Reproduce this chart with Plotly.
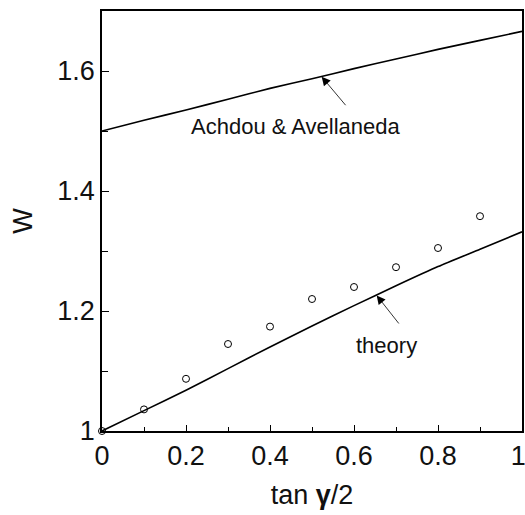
import plotly.graph_objects as go

# Data
x_line = [0.0, 0.1, 0.2, 0.3, 0.4, 0.5, 0.6, 0.7, 0.8, 0.9, 1.0]
achdou = [1.500, 1.518, 1.535, 1.553, 1.571, 1.587, 1.604, 1.620, 1.636, 1.651, 1.666]
theory = [1.000, 1.034, 1.068, 1.104, 1.140, 1.175, 1.209, 1.242, 1.274, 1.303, 1.332]
x_pts = [0.0, 0.1, 0.2, 0.3, 0.4, 0.5, 0.6, 0.7, 0.8, 0.9]
w_pts = [1.000, 1.036, 1.087, 1.145, 1.174, 1.220, 1.240, 1.273, 1.305, 1.358]

x_ticks = [0, 0.2, 0.4, 0.6, 0.8, 1]
x_ticktext = ["0", "0.2", "0.4", "0.6", "0.8", "1\u00a0"]
y_ticks = [1, 1.2, 1.4, 1.6]
y_ticktext = ["1", "1.2", "1.4", "1.6"]

FONT = "Liberation Sans, Arial, sans-serif"

fig = go.Figure()
fig.add_trace(go.Scatter(x=x_line, y=achdou, mode="lines",
                         line=dict(color="black", width=1.6, shape="spline", smoothing=0.6),
                         showlegend=False))
fig.add_trace(go.Scatter(x=x_line, y=theory, mode="lines",
                         line=dict(color="black", width=1.6, shape="spline", smoothing=0.6),
                         showlegend=False))
fig.add_trace(go.Scatter(x=x_pts, y=w_pts, mode="markers",
                         marker=dict(symbol="circle-open", size=7, color="black",
                                     line=dict(width=1, color="black")),
                         showlegend=False, cliponaxis=False))

# Arrows
fig.add_annotation(x=0.523, y=1.5905, ax=0.583, ay=1.5405, xref="x", yref="y",
                   axref="x", ayref="y", text="", showarrow=True,
                   arrowhead=2, arrowsize=2.2, arrowwidth=0.8, arrowcolor="black")
fig.add_annotation(x=0.654, y=1.226, ax=0.7095, ay=1.1767, xref="x", yref="y",
                   axref="x", ayref="y", text="", showarrow=True,
                   arrowhead=2, arrowsize=2.2, arrowwidth=0.8, arrowcolor="black")
# Labels
fig.add_annotation(x=0.463, y=1.507, xref="x", yref="y", text="Achdou & Avellaneda",
                   showarrow=False, font=dict(family=FONT, size=22, color="#111"))
fig.add_annotation(x=0.678, y=1.142, xref="x", yref="y", text="theory",
                   showarrow=False, font=dict(family=FONT, size=22, color="#111"))

fig.update_layout(
    width=525, height=515,
    margin=dict(l=102, r=3, t=11, b=84, autoexpand=False),
    paper_bgcolor="white", plot_bgcolor="white",
    font=dict(family=FONT, color="#111"),
    xaxis=dict(range=[0, 1], tickvals=x_ticks, ticktext=x_ticktext,
               ticks="inside", ticklen=6, tickwidth=1, tickcolor="black",
               minor=dict(ticks="inside", dtick=0.1, ticklen=4, tickcolor="black", tickwidth=1),
               showline=True, linecolor="black", linewidth=1.6, mirror=True,
               showgrid=False, zeroline=False, automargin=False,
               ticklabeloverflow="allow",
               tickfont=dict(family=FONT, size=27, color="#111"),
               title=dict(text="tan <b>γ</b>/2", font=dict(family=FONT, size=27, color="#111"),
                          standoff=15)),
    yaxis=dict(range=[1, 1.7], tickvals=y_ticks, ticktext=y_ticktext,
               ticks="inside", ticklen=7, tickwidth=1, tickcolor="black",
               minor=dict(ticks="inside", dtick=0.1, ticklen=6, tickcolor="black", tickwidth=1),
               showline=True, linecolor="black", linewidth=1.6, mirror=True,
               showgrid=False, zeroline=False, automargin=False,
               ticklabeloverflow="allow",
               tickfont=dict(family=FONT, size=27, color="#111"),
               title=dict(text="W", font=dict(family=FONT, size=27, color="#111"),
                          standoff=17)),
)

fig.write_html("out.html", config={"displayModeBar": False},
               post_script="document.body.style.margin='0';document.body.style.overflow='hidden';")
